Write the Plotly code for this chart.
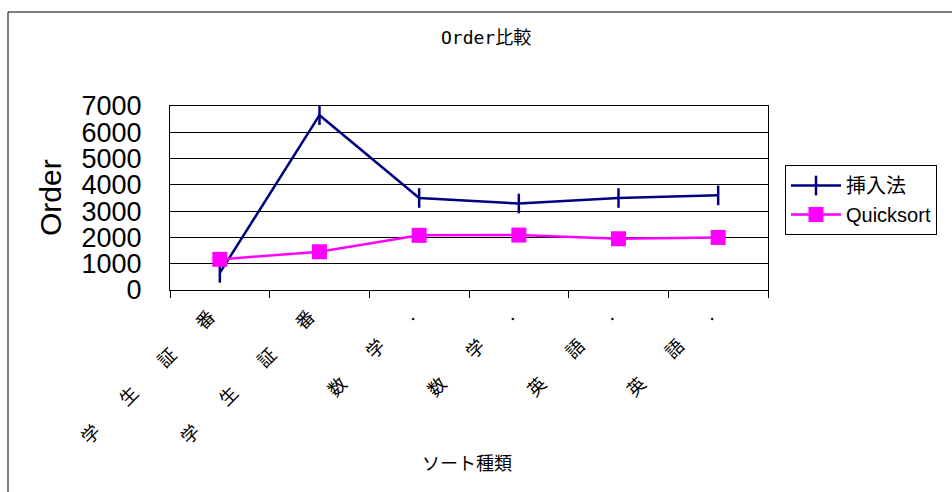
import plotly.graph_objects as go

categories = ["学生証番", "学生証番", "数学.", "数学.", "英語.", "英語."]
insertion = [650, 6650, 3500, 3290, 3500, 3600]
quicksort = [1165, 1455, 2080, 2090, 1950, 2000]
y_ticks = [0, 1000, 2000, 3000, 4000, 5000, 6000, 7000]

W, H = 952, 492
L, R, T, B = 170, 184, 106, 202
pw, ph = W - L - R, H - T - B

def px(x):
    return (x - L) / pw

def py(y):
    return (H - B - y) / ph

xs = list(range(len(categories)))
labels = ["\u3000\u3000".join(list(c)) for c in categories]

fig = go.Figure()
fig.add_trace(go.Scatter(
    x=xs, y=insertion, name="挿入法", mode="lines+markers",
    line=dict(color="#000080", width=2.5),
    marker=dict(symbol="line-ns", size=14, line=dict(color="#000080", width=2.5)),
))
fig.add_trace(go.Scatter(
    x=xs, y=quicksort, name="Quicksort", mode="lines+markers",
    line=dict(color="#FF00FF", width=2.5),
    marker=dict(symbol="square", size=15, color="#FF00FF"),
))

fig.update_layout(
    width=W, height=H,
    margin=dict(l=L, r=R, t=T, b=B, autoexpand=False),
    paper_bgcolor="white", plot_bgcolor="white",
    showlegend=True,
    legend=dict(x=px(785), y=py(165), xanchor="left", yanchor="top",
                bgcolor="white", bordercolor="black", borderwidth=1,
                itemwidth=50,
                font=dict(family="Liberation Sans, Noto Sans CJK JP", size=20, color="black"),
                tracegroupgap=0),
    xaxis=dict(range=[-0.5, len(categories) - 0.5], tickmode="array", tickvals=xs,
               ticktext=labels, tickangle=-45, ticks="", showgrid=False,
               showline=True, linecolor="black", linewidth=1, mirror=True,
               zeroline=False, ticklabelstandoff=8, ticklabelshift=-10,
               tickfont=dict(family="Noto Sans CJK JP", size=18, color="black"),
               minor=dict(ticks="outside", tickmode="linear", tick0=0.5, dtick=1,
                          ticklen=7, tickcolor="black", showgrid=False)),
    yaxis=dict(range=[0, 7000], tickmode="array", tickvals=y_ticks,
               showgrid=True, gridcolor="black", gridwidth=1,
               showline=True, linecolor="black", linewidth=1, mirror=True,
               zeroline=False, ticks="", ticklabelstandoff=22,
               tickfont=dict(family="Liberation Sans", size=27, color="black")),
    shapes=[dict(type="rect", xref="paper", yref="paper",
                 x0=px(8), x1=px(970), y0=py(12), y1=py(510),
                 line=dict(color="black", width=1), fillcolor="rgba(0,0,0,0)",
                 layer="below")],
    annotations=[
        dict(text="Order比較", x=px(486), y=py(38), xref="paper", yref="paper",
             xanchor="center", yanchor="middle",
             showarrow=False, font=dict(family="DejaVu Sans Mono, Noto Sans CJK JP", size=18, color="black")),
        dict(text="Order", x=px(50), y=py(198), xref="paper", yref="paper",
             xanchor="center", yanchor="middle",
             textangle=-90, showarrow=False,
             font=dict(family="Liberation Sans", size=30, color="black")),
        dict(text="ソート種類", x=px(467), y=py(462), xref="paper", yref="paper",
             xanchor="center", yanchor="middle",
             showarrow=False, font=dict(family="Noto Sans CJK JP", size=18, color="black")),
    ],
)

fig.write_html("out.html")
